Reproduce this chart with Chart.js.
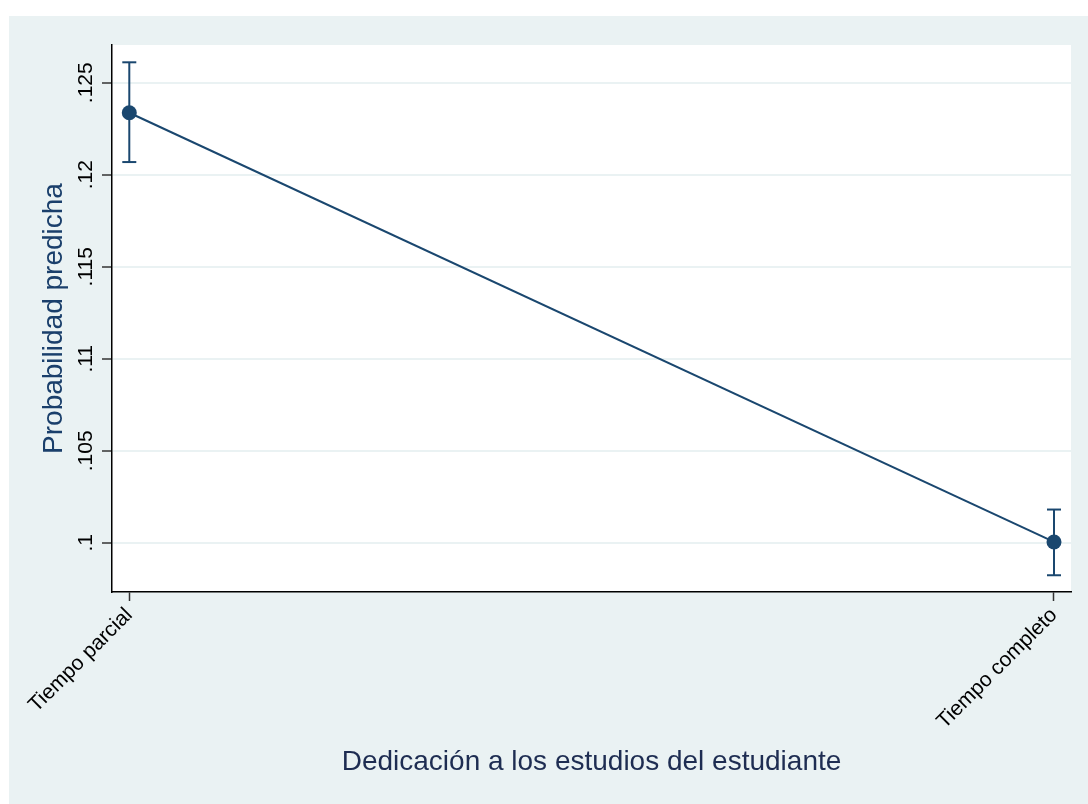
<!DOCTYPE html>
<html>
<head>
<meta charset="utf-8">
<script src="https://cdn.jsdelivr.net/npm/chart.js@4.4.1/dist/chart.umd.min.js"></script>
<style>
  html, body { margin: 0; padding: 0; background: #ffffff; }
  #wrap { position: absolute; left: 0; top: 0; width: 1088px; height: 804px; }
</style>
</head>
<body>
<div id="wrap"><canvas id="c" width="1088" height="804"></canvas></div>
<script>
// ---- Data ----
const categories = ['Tiempo parcial', 'Tiempo completo'];
const categoryPositions = [0, 1];
const predicted = [0.12337, 0.10005];
const ciLower = [0.12069, 0.09824];
const ciUpper = [0.12611, 0.10181];
const yTickValues = [0.1, 0.105, 0.11, 0.115, 0.12, 0.125];
const yTickLabels = ['.1', '.105', '.11', '.115', '.12', '.125'];
const xTitle = 'Dedicación a los estudios del estudiante';
const yTitle = 'Probabilidad predicha';

const NAVY = '#1a476f';
const FONT = "'Liberation Sans', Arial, Helvetica, sans-serif";

const mainData = categoryPositions.map((x, i) => ({ x: x, y: predicted[i] }));
const ciDatasets = categoryPositions.map((x, i) => ({
  type: 'line',
  data: [{ x: x, y: ciLower[i] }, { x: x, y: ciUpper[i] }],
  borderColor: NAVY,
  borderWidth: 2,
  pointStyle: 'line',
  pointRadius: 7,
  pointHoverRadius: 7,
  pointBorderColor: NAVY,
  pointBorderWidth: 2,
  showLine: true,
  fill: false,
  order: 2
}));

const bgPlugin = {
  id: 'bgPlugin',
  beforeDraw(chart) {
    const ctx = chart.ctx;
    const a = chart.chartArea;
    ctx.save();
    ctx.fillStyle = '#ffffff';
    ctx.fillRect(0, 0, chart.width, chart.height);
    ctx.fillStyle = '#eaf2f3';
    ctx.fillRect(9, 16, chart.width - 9, chart.height - 16);
    ctx.fillStyle = '#ffffff';
    ctx.fillRect(a.left, a.top, a.right - a.left, a.bottom - a.top);
    ctx.restore();
  }
};

const yLabelPlugin = {
  id: 'yLabelPlugin',
  afterDraw(chart) {
    const ctx = chart.ctx;
    const ys = chart.scales.y;
    ctx.save();
    ctx.font = '21px ' + FONT;
    ctx.fillStyle = '#000000';
    ctx.textAlign = 'center';
    ctx.textBaseline = 'alphabetic';
    yTickValues.forEach((v, i) => {
      const py = ys.getPixelForValue(v);
      ctx.save();
      ctx.translate(92, py);
      ctx.rotate(-Math.PI / 2);
      ctx.fillText(yTickLabels[i], 0, 0);
      ctx.restore();
    });
    ctx.restore();
  }
};

new Chart(document.getElementById('c'), {
  type: 'line',
  data: {
    datasets: [
      {
        data: mainData,
        borderColor: NAVY,
        backgroundColor: NAVY,
        borderWidth: 2,
        pointRadius: 7.5,
        pointHoverRadius: 7.5,
        pointBackgroundColor: NAVY,
        pointBorderColor: NAVY,
        pointBorderWidth: 0,
        fill: false,
        tension: 0,
        order: 1
      },
      ...ciDatasets
    ]
  },
  options: {
    responsive: false,
    animation: false,
    events: [],
    layout: { padding: { left: 37, top: 45, right: 17, bottom: 25 } },
    plugins: { legend: { display: false }, tooltip: { enabled: false } },
    scales: {
      x: {
        type: 'linear',
        min: -0.0187,
        max: 1.0184,
        afterBuildTicks(s) { s.ticks = categoryPositions.map(v => ({ value: v })); },
        afterFit(s) { s.height = 804 - 592 - 25; s.paddingLeft = 0; s.paddingRight = 0; },
        grid: { display: true, drawOnChartArea: false, drawTicks: true, tickLength: 9, tickColor: '#333333', tickWidth: 1.5 },
        border: { display: true, color: '#000000', width: 1.5 },
        ticks: {
          minRotation: 45, maxRotation: 45, padding: 2,
          color: '#000000',
          font: { family: FONT, size: 21 },
          callback(v) { const i = categoryPositions.indexOf(v); return i >= 0 ? categories[i] : ''; }
        },
        title: {
          display: true, text: xTitle, color: '#1e2d52',
          font: { family: FONT, size: 28 }, padding: { top: 0, bottom: 0 }
        }
      },
      y: {
        type: 'linear',
        min: 0.09733,
        max: 0.12705,
        afterBuildTicks(s) { s.ticks = yTickValues.map(v => ({ value: v })); },
        afterFit(s) { s.width = 112 - 37; s.paddingTop = 0; s.paddingBottom = 0; },
        grid: { display: true, color: '#eaf2f3', lineWidth: 2, drawTicks: true, tickLength: 10, tickColor: '#333333', tickWidth: 1.5 },
        border: { display: true, color: '#000000', width: 1.5 },
        ticks: { display: false },
        title: {
          display: true, text: yTitle, color: '#1a3f6b',
          font: { family: FONT, size: 28 }, padding: { top: 0, bottom: 0 }
        }
      }
    }
  },
  plugins: [bgPlugin, yLabelPlugin]
});
</script>
</body>
</html>
